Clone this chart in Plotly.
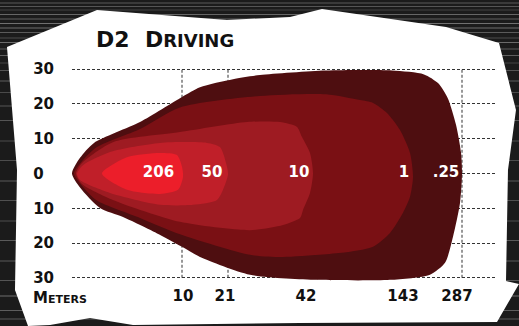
import plotly.graph_objects as go

# ---------------- data ----------------
# x: position along the throw (plot units), y: spread in degrees
OUT_X = [0, 8, 22, 68, 110, 128, 161, 188, 254, 320, 352, 366, 376, 384, 389, 390,
         388, 381, 373, 358, 318, 245, 178, 128, 110, 78, 51, 28, 8, 0]
OUT_Y = [0, 4.5, 8.8, 14.8, 22.0, 24.8, 27.1, 28.3, 29.6, 29.6, 28.5, 26.0, 21.5, 14.0, 6.0, 0,
         -8.5, -18.2, -25.7, -29.1, -30.6, -30.6, -29.1, -24.0, -21.1, -16.2, -12.5, -9.9, -4.0, 0]

ONE_X = [2, 10, 25, 68, 108, 188, 254, 288, 301, 315, 328, 338, 341, 338, 331, 318, 301,
         278, 211, 178, 108, 68, 25, 10, 2]
ONE_Y = [0, 3.5, 7.6, 12.8, 19.0, 22.3, 22.8, 21.1, 20.3, 17.4, 12.5, 5.9, -1.0, -6.7, -11.3,
         -17.1, -21.1, -22.5, -24.0, -23.4, -17.5, -12.8, -7.8, -3.5, 0]

TEN_X = [4, 10, 41, 108, 175, 208, 225, 230, 238, 241, 238, 231, 228, 211, 178, 108, 41, 10, 4]
TEN_Y = [0, 3.0, 9.0, 11.9, 14.8, 14.8, 13.4, 10.5, 5.9, 0, -5.6, -10.5, -12.8, -14.8, -16.3,
         -13.9, -7.6, -3.0, 0]

FIFTY_X = [5, 11, 38, 88, 135, 148, 155, 156, 151, 145, 121, 88, 38, 8, 5]
FIFTY_Y = [0, 2.4, 6.2, 8.8, 8.8, 7.6, 1.9, -0.4, -4.7, -7.6, -9.0, -9.0, -5.6, -1.9, 0]

P206_X = [30, 55, 88, 105, 110, 111, 106, 88, 55, 30]
P206_Y = [0, 4.7, 5.9, 5.3, 1.9, -1.0, -4.7, -5.9, -4.7, 0]

LUX_LABELS = ["206", "50", "10", "1", ".25"]
LUX_LABEL_X = [86.5, 140, 227, 332, 374]
LUX_LABEL_Y = [0, 0, 0, 0, 0]

X_TICKS = [111, 153, 234, 331, 385]
X_TICK_TEXT = ["10", "21", "42", "143", "287"]
GUIDE_X = [110, 156, 390]

Y_TICKS = [30, 20, 10, 0, -10, -20, -30]
Y_TICK_TEXT = ["30", "20", "10", "0\u2007", "10", "20", "30"]

COLORS = ["#4e0e10", "#7a1014", "#9e1b22", "#c01f29", "#ec1e2a"]

# ---------------- layout geometry ----------------
W, H = 519, 326
ML, MR, MT, MB = 72, 24, 65, 43
PW, PH = W - ML - MR, H - MT - MB


def px2x(px):
    return (px - ML) / PW


def px2y(py):
    return (H - MB - py) / PH


fig = go.Figure()
for xs, ys, c in [(OUT_X, OUT_Y, COLORS[0]), (ONE_X, ONE_Y, COLORS[1]),
                  (TEN_X, TEN_Y, COLORS[2]), (FIFTY_X, FIFTY_Y, COLORS[3]),
                  (P206_X, P206_Y, COLORS[4])]:
    fig.add_trace(go.Scatter(x=xs, y=ys, mode="lines", fill="toself", fillcolor=c,
                             line=dict(color=c, width=0, shape="spline", smoothing=0.7),
                             hoverinfo="skip", showlegend=False))

fig.add_trace(go.Scatter(x=LUX_LABEL_X, y=LUX_LABEL_Y, mode="text", text=LUX_LABELS,
                         textfont=dict(family="DejaVu Sans", size=15, color="white", weight="bold"),
                         textposition="middle center", hoverinfo="skip", showlegend=False))

shapes = []
# brushed dark background streaks
streaks = [(2, 2, "#3a3a3a"), (6, 1, "#555"), (9, 2, "#2e2e2e"), (14, 1, "#666"),
           (18, 2, "#3d3d3d"), (23, 1, "#707070"), (27, 2, "#444"), (32, 1, "#5a5a5a"),
           (37, 2, "#333"), (42, 1, "#6a6a6a"), (48, 2, "#3a3a3a"), (55, 1, "#5f5f5f"),
           (62, 2, "#2f2f2f"), (70, 1, "#555"), (80, 2, "#3c3c3c"), (92, 1, "#4a4a4a"),
           (105, 2, "#383838"), (120, 1, "#555"), (140, 2, "#333"), (160, 1, "#4d4d4d"),
           (180, 2, "#3a3a3a"), (200, 1, "#505050"), (220, 2, "#343434"), (240, 1, "#5a5a5a"),
           (260, 2, "#3a3a3a"), (280, 1, "#555"), (295, 2, "#444"), (310, 1, "#5e5e5e"),
           (318, 2, "#3a3a3a")]
for y0, h, c in streaks:
    shapes.append(dict(type="rect", xref="paper", yref="paper", layer="below",
                       x0=px2x(0), x1=px2x(W), y0=px2y(y0 + h), y1=px2y(y0),
                       fillcolor=c, line=dict(width=0)))

poly = [(7, 47), (97, 10), (227, 20), (290, 17), (322, 9), (446, 27), (499, 43), (516, 110),
        (508, 170), (506, 281), (519, 284), (497, 322), (300, 323), (133, 325), (90, 318),
        (50, 325), (28, 326), (15, 290), (17, 170)]
path = "M " + " L ".join(f"{px2x(a):.4f},{px2y(b):.4f}" for a, b in poly) + " Z"
shapes.append(dict(type="path", xref="paper", yref="paper", layer="below", path=path,
                   fillcolor="white", line=dict(width=0)))

for gx in GUIDE_X:
    shapes.append(dict(type="line", xref="x", yref="y", layer="below", x0=gx, x1=gx,
                       y0=-30, y1=30, line=dict(color="#333", width=1, dash="3px,2px")))

annotations = [
    dict(xref="paper", yref="paper", x=px2x(94), y=px2y(40), xanchor="left", yanchor="middle",
         showarrow=False,
         text="D2&nbsp;&nbsp;D<span style='font-size:18px'>RIVING</span>",
         font=dict(family="DejaVu Sans", size=22, color="#111", weight="bold")),
    dict(xref="paper", yref="paper", x=px2x(32), y=px2y(288), xanchor="left", yanchor="top",
         showarrow=False, borderpad=0,
         text="M<span style='font-size:11px'>ETERS</span>",
         font=dict(family="DejaVu Sans", size=15, color="#111", weight="bold")),
]

fig.update_layout(
    width=W, height=H, margin=dict(l=ML, r=MR, t=MT, b=MB, autoexpand=False),
    paper_bgcolor="#1b1b1b", plot_bgcolor="rgba(0,0,0,0)",
    shapes=shapes, annotations=annotations, showlegend=False,
    xaxis=dict(range=[0, 423], showgrid=False, zeroline=False, showline=False,
               automargin=False,
               tickmode="array", tickvals=X_TICKS, ticktext=X_TICK_TEXT, ticks="",
               ticklabelstandoff=2,
               tickfont=dict(family="DejaVu Sans", size=15, color="#111", weight="bold")),
    yaxis=dict(range=[-31.5, 31.2], showgrid=True, gridcolor="#333", gridwidth=1,
               griddash="3px,2px", zeroline=False, showline=False, automargin=False,
               tickmode="array", tickvals=Y_TICKS, ticktext=Y_TICK_TEXT, ticks="",
               ticklabelstandoff=17,
               tickfont=dict(family="DejaVu Sans", size=15, color="#111", weight="bold")),
)

fig.write_html("out.html", config={"displayModeBar": False},
               post_script="document.body.style.margin='0';document.body.style.overflow='hidden';")
